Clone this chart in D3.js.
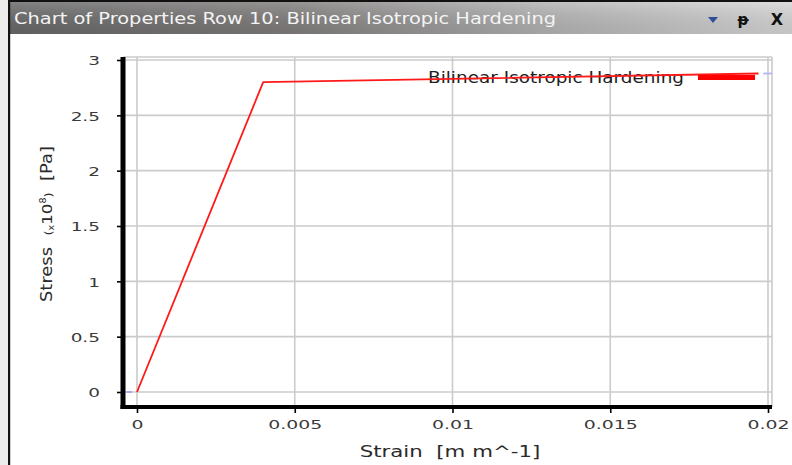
<!DOCTYPE html>
<html>
<head>
<meta charset="utf-8">
<script src="https://cdn.jsdelivr.net/npm/d3@7"></script>
<style>
  html, body { margin: 0; padding: 0; background: #fff; }
  svg { display: block; }
</style>
</head>
<body>
<svg id="chart" width="792" height="465"></svg>
<script>
// Bilinear isotropic hardening curve (stress in units of 1e8 Pa)
const strain = [0, 0.004, 0.0197];
const stress = [0, 2.8, 2.878];

// Short extrapolation stubs drawn beyond the defined data range
const stubBeforeStrain = [-0.00033, -0.00017];
const stubBeforeStress = [0, 0];
const stubAfterStrain = [0.01985, 0.02013];
const stubAfterStress = [2.878, 2.878];

const xTicks = [0, 0.005, 0.01, 0.015, 0.02];
const xTickLabels = ["0", "0.005", "0.01", "0.015", "0.02"];
const yTicks = [0, 0.5, 1, 1.5, 2, 2.5, 3];
const yTickLabels = ["0", "0.5", "1", "1.5", "2", "2.5", "3"];

const seriesName = "Bilinear Isotropic Hardening";
const panelTitle = "Chart of Properties Row 10: Bilinear Isotropic Hardening";

const svg = d3.select("#chart");
const W = 792, H = 465;
const FONT = "'DejaVu Sans', Verdana, sans-serif";

// widen text horizontally by a factor, keeping its anchor
function stretch(sel, k) {
  sel.each(function () {
    const len = this.getComputedTextLength();
    d3.select(this).attr("textLength", len * k).attr("lengthAdjust", "spacingAndGlyphs");
  });
}

// ---------- window frame ----------
const defs = svg.append("defs");
const g1 = defs.append("linearGradient").attr("id", "bar").attr("x1", 0).attr("x2", 1).attr("y1", 0).attr("y2", 0);
g1.append("stop").attr("offset", "0%").attr("stop-color", "#676767");
g1.append("stop").attr("offset", "35%").attr("stop-color", "#7e7b7a");
g1.append("stop").attr("offset", "70%").attr("stop-color", "#b4b4b4");
g1.append("stop").attr("offset", "100%").attr("stop-color", "#d6d6d6");
const g2 = defs.append("linearGradient").attr("id", "barV").attr("x1", 0).attr("x2", 0).attr("y1", 0).attr("y2", 1);
g2.append("stop").attr("offset", "0%").attr("stop-color", "#fff").attr("stop-opacity", 0.18);
g2.append("stop").attr("offset", "100%").attr("stop-color", "#000").attr("stop-opacity", 0.08);

svg.append("rect").attr("x", 0).attr("y", 0).attr("width", W).attr("height", H).attr("fill", "#fff");
svg.append("rect").attr("x", 0).attr("y", 0).attr("width", 8).attr("height", H).attr("fill", "#ececec");
svg.append("rect").attr("x", 9).attr("y", 2).attr("width", W - 9).attr("height", 32).attr("fill", "url(#bar)");
svg.append("rect").attr("x", 9).attr("y", 2).attr("width", W - 9).attr("height", 32).attr("fill", "url(#barV)");
svg.append("rect").attr("x", 8).attr("y", 0).attr("width", W - 8).attr("height", 2).attr("fill", "#111");
svg.append("rect").attr("x", 8).attr("y", 0).attr("width", 2.2).attr("height", H).attr("fill", "#111");

svg.append("text")
  .attr("x", 14).attr("y", 24)
  .attr("font-family", FONT).attr("font-size", 15)
  .attr("fill", "#f4f4f4")
  .text(panelTitle)
  .attr("textLength", 542).attr("lengthAdjust", "spacingAndGlyphs");

// title bar buttons
svg.append("path").attr("d", "M708,17 L718,17 L713,23 Z").attr("fill", "#2f4f9a");
svg.append("text").attr("x", 743).attr("y", 25).attr("text-anchor", "middle")
  .attr("font-family", FONT).attr("font-size", 15).attr("font-weight", "bold").attr("fill", "#111").text("ᵽ");
svg.append("text").attr("x", 777).attr("y", 25).attr("text-anchor", "middle")
  .attr("font-family", FONT).attr("font-size", 16).attr("font-weight", "bold").attr("fill", "#111").text("X");

// ---------- plot ----------
const plot = { left: 123, right: 772, top: 57, bottom: 407 };
const x = d3.scaleLinear().domain([0, 0.02]).range([137, 768]);
const y = d3.scaleLinear().domain([0, 3]).range([392, 60]);

// gridlines
const grid = svg.append("g").attr("stroke", "#cbcbcb").attr("stroke-width", 1.6);
grid.selectAll("line.v").data(xTicks).join("line")
  .attr("x1", d => x(d)).attr("x2", d => x(d))
  .attr("y1", plot.top).attr("y2", plot.bottom - 2);
grid.selectAll("line.h").data(yTicks).join("line")
  .attr("x1", plot.left + 2).attr("x2", plot.right)
  .attr("y1", d => y(d)).attr("y2", d => y(d));
// frame top / right
grid.append("line").attr("x1", plot.left).attr("x2", plot.right).attr("y1", plot.top).attr("y2", plot.top);
grid.append("line").attr("x1", plot.right).attr("x2", plot.right).attr("y1", plot.top).attr("y2", plot.bottom);

// axes: ticks and labels
const yAxis = d3.axisLeft(y).tickValues(yTicks).tickSize(4).tickPadding(17)
  .tickFormat((d, i) => yTickLabels[i]);
const yg = svg.append("g").attr("transform", `translate(${plot.left - 2},0)`).call(yAxis);
yg.select(".domain").remove();
yg.selectAll(".tick line").attr("stroke", "#000").attr("stroke-width", 1.6);
yg.selectAll(".tick text").attr("font-family", FONT).attr("font-size", 13).attr("fill", "#3a3a3a")
  .attr("dy", "0.36em").call(stretch, 1.42);

const xAxis = d3.axisBottom(x).tickValues(xTicks).tickSize(4).tickPadding(7)
  .tickFormat((d, i) => xTickLabels[i]);
const xg = svg.append("g").attr("transform", `translate(0,${plot.bottom + 2})`).call(xAxis);
xg.select(".domain").remove();
xg.selectAll(".tick line").attr("stroke", "#000").attr("stroke-width", 1.6);
xg.selectAll(".tick text").attr("font-family", FONT).attr("font-size", 13).attr("fill", "#3a3a3a")
  .call(stretch, 1.45);

// heavy axis lines
svg.append("line").attr("x1", plot.left).attr("x2", plot.left)
  .attr("y1", plot.top).attr("y2", plot.bottom + 2)
  .attr("stroke", "#000").attr("stroke-width", 5);
svg.append("line").attr("x1", plot.left - 2.5).attr("x2", plot.right)
  .attr("y1", plot.bottom).attr("y2", plot.bottom)
  .attr("stroke", "#000").attr("stroke-width", 4);

// axis titles
const xTitle = svg.append("text")
  .attr("x", 450).attr("y", 457).attr("text-anchor", "middle")
  .attr("font-family", FONT).attr("font-size", 15).attr("fill", "#2a2a2a")
  .attr("xml:space", "preserve")
  .text("Strain  [m m^-1]");
stretch(xTitle, 1.42);

const yTitle = svg.append("text")
  .attr("transform", "translate(52,224) rotate(-90)")
  .attr("text-anchor", "middle")
  .attr("font-family", FONT).attr("font-size", 15).attr("fill", "#2a2a2a")
  .attr("xml:space", "preserve");
yTitle.append("tspan").text("Stress  ");
yTitle.append("tspan").attr("font-size", 11).text("(");
yTitle.append("tspan").attr("font-size", 8).attr("dy", 2).text("x");
yTitle.append("tspan").attr("font-size", 14).attr("dy", -2).text("10");
yTitle.append("tspan").attr("font-size", 8).attr("dy", -6).text("8");
yTitle.append("tspan").attr("font-size", 11).attr("dy", 6).text(")");
yTitle.append("tspan").attr("font-size", 15).text("  [Pa]");
yTitle.attr("textLength", 156).attr("lengthAdjust", "spacingAndGlyphs");

// legend text (drawn under the curve so the line passes through it)
svg.append("text")
  .attr("x", 684).attr("y", 82.5).attr("text-anchor", "end")
  .attr("font-family", FONT).attr("font-size", 15).attr("fill", "#1e1e1e")
  .text(seriesName)
  .attr("textLength", 256).attr("lengthAdjust", "spacingAndGlyphs");

// extrapolation stubs
const line = d3.line().x(d => x(d[0])).y(d => y(d[1]));
svg.append("path")
  .datum(d3.zip(stubBeforeStrain, stubBeforeStress))
  .attr("d", line).attr("fill", "none").attr("stroke", "#9c9cf0").attr("stroke-width", 1.8);
svg.append("path")
  .datum(d3.zip(stubAfterStrain, stubAfterStress))
  .attr("d", line).attr("fill", "none").attr("stroke", "#b4b4f4").attr("stroke-width", 1.8);

// the curve
svg.append("path")
  .datum(d3.zip(strain, stress))
  .attr("d", line).attr("fill", "none").attr("stroke", "#ff1a1a").attr("stroke-width", 1.8)
  .attr("stroke-linejoin", "round");

// legend swatch
svg.append("line").attr("x1", 698).attr("x2", 755).attr("y1", 77.5).attr("y2", 77.5)
  .attr("stroke", "#ff0000").attr("stroke-width", 5);
</script>
</body>
</html>
